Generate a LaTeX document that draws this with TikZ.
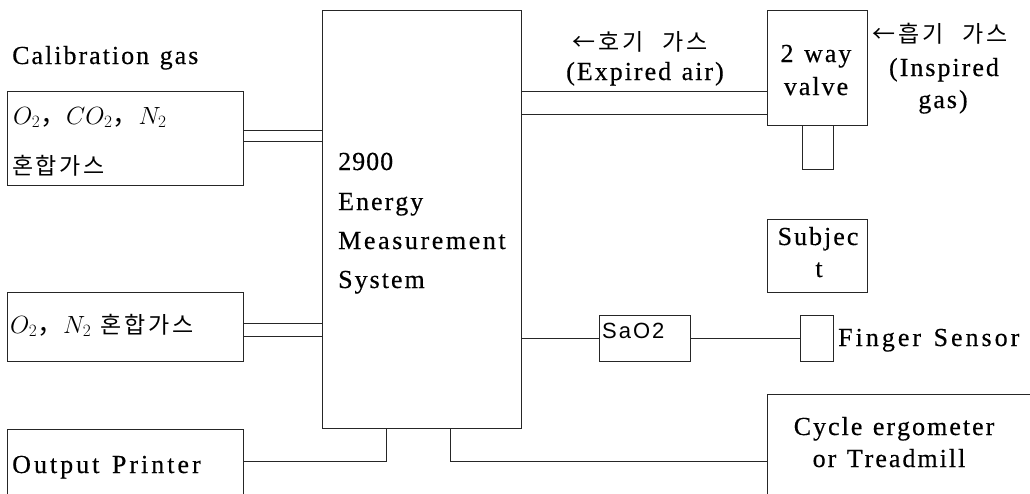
\documentclass[tikz,border=0pt]{standalone}
\usepackage{fontspec}
\setmainfont{Liberation Serif}[FakeBold=0.4]
\newfontfamily\kr{Noto Sans CJK KR}
\newfontfamily\sansf{Liberation Sans}
\def\spaced#1#2{\def\spk{#1}\spacedloop#2\relax}
\def\spacedloop#1{\ifx\relax#1\else#1\kern\spk\expandafter\spacedloop\fi}
\tikzset{
  box/.style={draw=black!85, line width=0.8pt, rectangle, inner sep=0pt, anchor=north west},
  wire/.style={draw=black!85, line width=0.8pt},
  lbl/.style={inner sep=0pt, anchor=base west, font=\fontsize{26}{28}\selectfont},
  lblc/.style={lbl, anchor=base},
  krl/.style={inner sep=0pt, anchor=base west, font=\fontsize{23}{26}\selectfont\kr},
}
\begin{document}
\begin{tikzpicture}[x=1pt, y=-1pt]
\useasboundingbox (0,0) rectangle (1030,493);
\clip (0,0) rectangle (1030,493);
% boxes
\node[box, minimum width=199pt, minimum height=418pt] (main) at (322,10) {};
\node[box, minimum width=236pt, minimum height=94pt] (cal1) at (7,91) {};
\node[box, minimum width=236pt, minimum height=69pt] (cal2) at (7,292) {};
\node[box, minimum width=236pt, minimum height=80pt] (printer) at (7,429) {};
\node[box, minimum width=100pt, minimum height=115pt] (valve) at (767,10) {};
\node[box, minimum width=100pt, minimum height=73pt] (subject) at (767,219) {};
\node[box, minimum width=91pt, minimum height=46pt] (sao2) at (599,315) {};
\node[box, minimum width=33pt, minimum height=46pt] (finger) at (800,315) {};
\node[box, minimum width=280pt, minimum height=120pt] (cycle) at (767,394) {};
% valve stub
\coordinate (stubL) at (802,125);
\coordinate (stubR) at (833,125);
\draw[wire] (stubL) -- ++(0,44) -| (stubR);
% double lines
\draw[wire] (cal1.east |- 0,130) -- (main.west |- 0,130);
\draw[wire] (cal1.east |- 0,141) -- (main.west |- 0,141);
\draw[wire] (cal2.east |- 0,323) -- (main.west |- 0,323);
\draw[wire] (cal2.east |- 0,336) -- (main.west |- 0,336);
\draw[wire] (main.east |- 0,91) -- (valve.west |- 0,91);
\draw[wire] (main.east |- 0,114) -- (valve.west |- 0,114);
% single lines
\draw[wire] (main.east |- sao2.west) -- (sao2.west);
\draw[wire] (sao2.east) -- (finger.west);
\coordinate (pj) at (386,428);
\coordinate (cj) at (450,428);
\draw[wire] (printer.east |- 0,461) -| (pj);
\draw[wire] (cj) |- (cycle.west |- 0,461);
% texts
\node[lbl] (t1) at (12,64) {\spaced{2pt}{Calibration\ gas}};
\node[lbl] (t2) at (13,124) {$O_2${\kr ，}$CO_2${\kr ，}$N_2$};
\node[krl] (t3) at (12,174) {\spaced{2.5pt}{혼합가스}};
\node[lbl] (t4) at (10,333) {$O_2${\kr ，}$N_2$\hspace{9pt}{\kr\fontsize{23}{26}\selectfont\spaced{3pt}{혼합가스}}};
\node[lbl] (t5) at (12,473) {\spaced{3pt}{Output\ Printer}};
\node[lbl] (m1) at (338,170) {\spaced{1pt}{2900}};
\node[lbl] (m2) at (338,210) {\spaced{2pt}{Energy}};
\node[lbl] (m3) at (338,249) {\spaced{2.6pt}{Measurement}};
\node[lbl] (m4) at (338,288) {\spaced{2pt}{System}};
\node[krl] (e1) at (572,50) {\spaced{3pt}{←호기\ \ 가스}};
\node[lbl] (e2) at (566,80) {\spaced{2pt}{(Expired\ air)}};
\node[lblc] (v1) at (817,62) {\spaced{2pt}{2\ way}};
\node[lblc] (v2) at (817,95) {\spaced{2pt}{valve}};
\node[krl] (i1) at (872,42) {\spaced{3pt}{←흡기\ \ 가스}};
\node[lblc] (i2) at (945,76) {\spaced{2pt}{(Inspired}};
\node[lblc] (i3) at (944,108) {\spaced{2pt}{gas)}};
\node[lblc] (s1) at (819,245) {\spaced{2pt}{Subjec}};
\node[lblc] (s2) at (819,277) {t};
\node[inner sep=0pt, anchor=base west, font=\fontsize{22}{24}\selectfont\sansf] (sa) at (602,338) {\spaced{2pt}{SaO2}};
\node[lbl] (fs) at (838,346) {\spaced{3pt}{Finger\ Sensor}};
\node[lblc] (c1) at (895,435) {\spaced{2pt}{Cycle\ ergometer}};
\node[lblc] (c2) at (890,467) {\spaced{2pt}{or\ Treadmill}};
\end{tikzpicture}
\end{document}
